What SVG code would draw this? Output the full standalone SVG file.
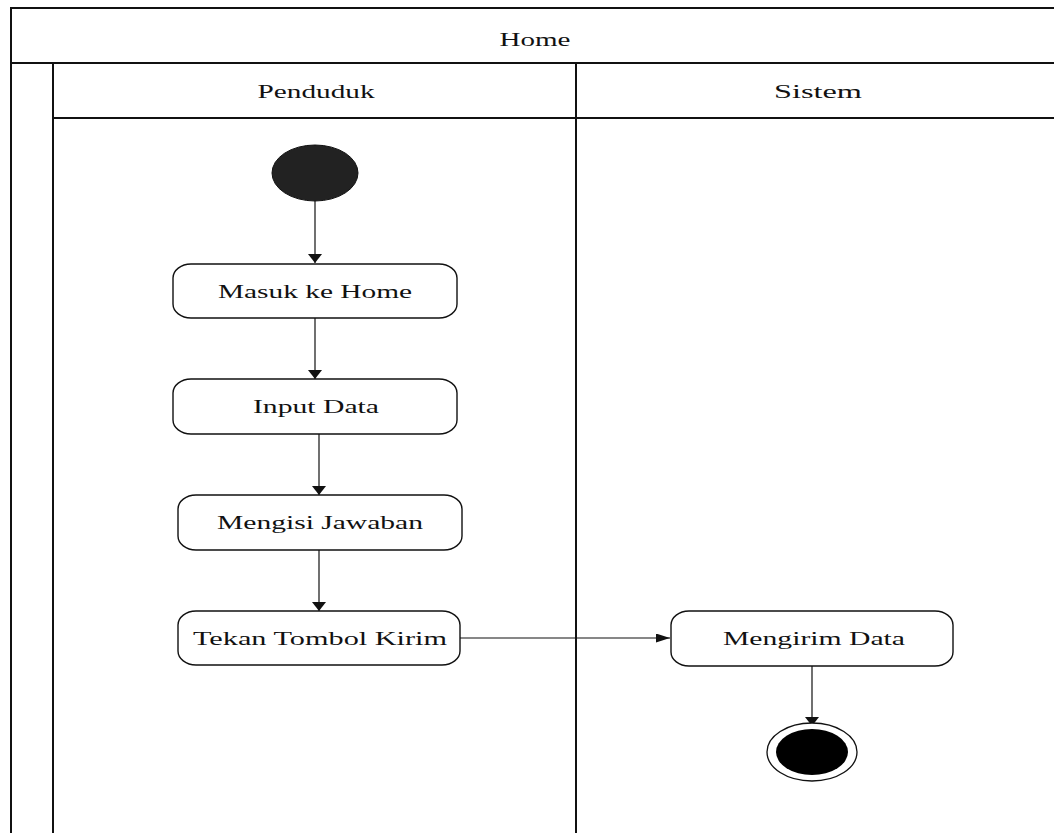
<svg xmlns="http://www.w3.org/2000/svg" width="1054" height="833" viewBox="0 0 1054 833">
  <style>
    .frame { stroke: #111; stroke-width: 2; fill: none; }
    .act { fill: #fff; stroke: #111; stroke-width: 1.4; }
    .flow { stroke: #111; stroke-width: 1.2; fill: none; }
    .lbl { font-family: "Liberation Serif", "Times New Roman", serif; font-size: 18px; fill: #111; }
  </style>
  <defs>
    <marker id="headDown" markerUnits="userSpaceOnUse" markerWidth="14" markerHeight="14" refX="9" refY="7" orient="auto">
      <path d="M0,0 L9,7 L0,14 Z" fill="#111"/>
    </marker>
    <marker id="headRight" markerUnits="userSpaceOnUse" markerWidth="14" markerHeight="10" refX="14" refY="4.5" orient="auto">
      <path d="M0,0 L14,4.5 L0,9 Z" fill="#111"/>
    </marker>
  </defs>
  <rect width="1054" height="833" fill="#fff"/>

  <!-- swimlane frame -->
  <g id="swimlanes">
    <path class="frame" d="M11,833 V8 H1054"/>
    <path class="frame" d="M11,63 H1054"/>
    <path class="frame" d="M53,833 V63"/>
    <path class="frame" d="M53,118 H1054"/>
    <path class="frame" d="M576,833 V63"/>
    <text class="lbl" x="535" y="46" text-anchor="middle" textLength="71" lengthAdjust="spacingAndGlyphs">Home</text>
    <text class="lbl" x="316" y="98" text-anchor="middle" textLength="117" lengthAdjust="spacingAndGlyphs">Penduduk</text>
    <text class="lbl" x="818" y="98" text-anchor="middle" textLength="88" lengthAdjust="spacingAndGlyphs">Sistem</text>
  </g>

  <!-- connectors -->
  <g id="connectors">
    <line class="flow" x1="315" y1="201" x2="315" y2="263" marker-end="url(#headDown)"/>
    <line class="flow" x1="315" y1="318" x2="315" y2="379" marker-end="url(#headDown)"/>
    <line class="flow" x1="319" y1="434" x2="319" y2="495" marker-end="url(#headDown)"/>
    <line class="flow" x1="319" y1="550" x2="319" y2="611" marker-end="url(#headDown)"/>
    <line class="flow" x1="460" y1="638" x2="670" y2="638" marker-end="url(#headRight)"/>
    <line class="flow" x1="812" y1="666" x2="812" y2="726" marker-end="url(#headDown)"/>
  </g>

  <g id="start">
    <ellipse cx="315" cy="173" rx="43" ry="28" fill="#222" stroke="#111" stroke-width="1"/>
  </g>

  <g id="masuk-ke-home">
    <rect class="act" x="173" y="264" width="284" height="54" rx="18" ry="14"/>
    <text class="lbl" x="315" y="298" text-anchor="middle" textLength="194" lengthAdjust="spacingAndGlyphs">Masuk ke Home</text>
  </g>

  <g id="input-data">
    <rect class="act" x="173" y="379" width="284" height="55" rx="18" ry="14"/>
    <text class="lbl" x="316" y="413" text-anchor="middle" textLength="126" lengthAdjust="spacingAndGlyphs">Input Data</text>
  </g>

  <g id="mengisi-jawaban">
    <rect class="act" x="178" y="495" width="284" height="55" rx="18" ry="14"/>
    <text class="lbl" x="320" y="529" text-anchor="middle" textLength="206" lengthAdjust="spacingAndGlyphs">Mengisi Jawaban</text>
  </g>

  <g id="tekan-tombol-kirim">
    <rect class="act" x="178" y="611" width="282" height="54" rx="18" ry="14"/>
    <text class="lbl" x="320" y="645" text-anchor="middle" textLength="254" lengthAdjust="spacingAndGlyphs">Tekan Tombol Kirim</text>
  </g>

  <g id="mengirim-data">
    <rect class="act" x="671" y="611" width="282" height="55" rx="18" ry="14"/>
    <text class="lbl" x="814" y="645" text-anchor="middle" textLength="182" lengthAdjust="spacingAndGlyphs">Mengirim Data</text>
  </g>

  <g id="end">
    <ellipse cx="812" cy="752" rx="45" ry="29" fill="#fff" stroke="#111" stroke-width="1.3"/>
    <ellipse cx="812" cy="752" rx="36" ry="23" fill="#000"/>
  </g>
</svg>
